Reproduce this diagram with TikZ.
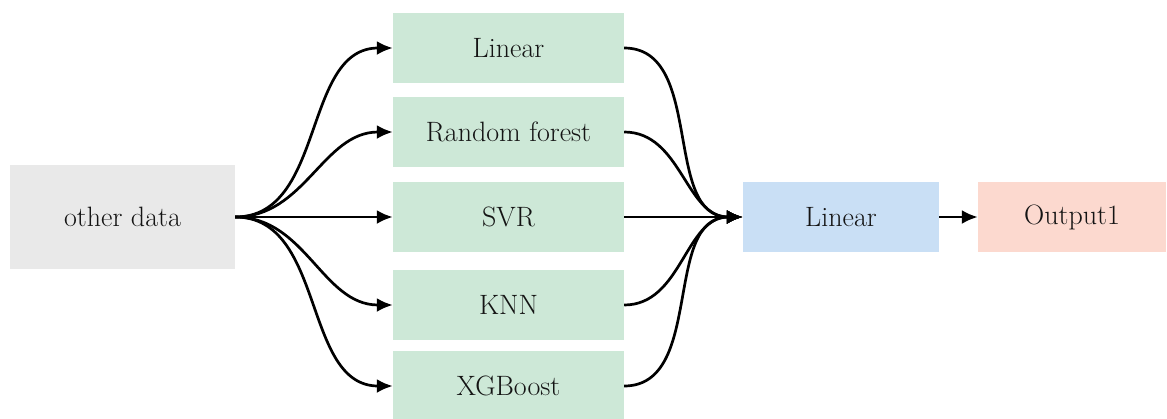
\documentclass[tikz,border=0pt]{standalone}
\usepackage{tikz}
\usetikzlibrary{arrows.meta}
\definecolor{datagray}{RGB}{233,233,233}
\definecolor{modelgreen}{RGB}{205,232,215}
\definecolor{metablue}{RGB}{201,223,245}
\definecolor{outpink}{RGB}{252,217,207}

\begin{document}
\begin{tikzpicture}[x=1pt,y=-1pt,
  box/.style={inner sep=0pt, minimum height=70pt, text=black!92, font=\fontsize{28}{34}\selectfont},
  link/.style={line width=2.7pt, -{Latex[length=16pt,width=14pt]}}]
  \useasboundingbox (0,0) rectangle (1167,418);
  \node[box, fill=datagray, minimum width=225pt, minimum height=104pt] (data) at (122.5,217) {other data};
  \node[box, fill=modelgreen, minimum width=231pt] (lin) at (508.5,48) {Linear};
  \node[box, fill=modelgreen, minimum width=231pt] (rf) at (508.5,132) {Random forest};
  \node[box, fill=modelgreen, minimum width=231pt] (svr) at (508.5,217) {SVR};
  \node[box, fill=modelgreen, minimum width=231pt] (knn) at (508.5,305) {KNN};
  \node[box, fill=modelgreen, minimum width=231pt] (xgb) at (508.5,386) {XGBoost};
  \node[box, fill=metablue, minimum width=196pt] (meta) at (841,217) {Linear};
  \node[box, fill=outpink, minimum width=188pt] (out) at (1072,217) {Output1};
  \foreach \m in {lin,rf,svr,knn,xgb}
  {
  \path[link] (data.east) edge[out=0, in=180] (\m.west);
  \path[link] (\m.east) edge[out=0, in=180] (meta.west);
  }
  \path[link] (meta) edge (out);
\end{tikzpicture}
\end{document}
